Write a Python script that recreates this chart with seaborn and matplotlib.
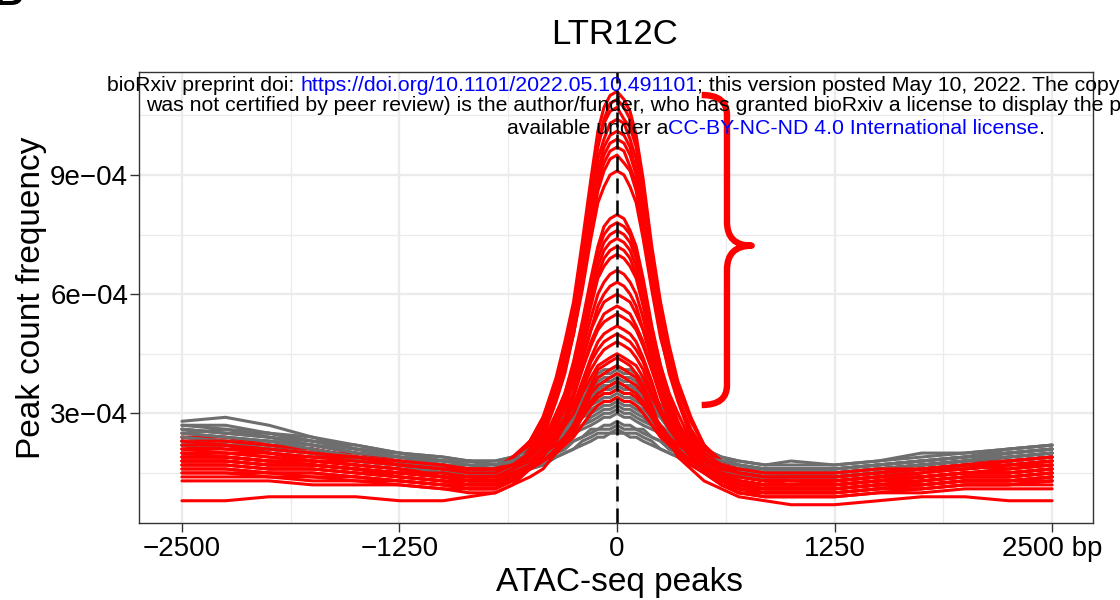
import numpy as np
import pandas as pd
import matplotlib
matplotlib.use("Agg")
import matplotlib.pyplot as plt
from matplotlib.path import Path
from matplotlib.patches import PathPatch
from matplotlib.font_manager import FontProperties
import seaborn as sns

# ---------------- data ----------------
positions = [-2500, -2250, -2000, -1750, -1500, -1250, -1000, -850, -700,
             -600, -500, -425, -350, -300, -250, -200, -150, -110, -75, -40,
             0,
             40, 75, 110, 150, 200, 250, 300, 350, 425, 500, 600,
             700, 850, 1000, 1250, 1500, 1750, 2000, 2250, 2500]

# peak count frequency in units of 1e-5 (red group)
red_profiles = [
    [21, 22, 20, 19, 19, 17, 17, 16, 15, 18, 23, 29, 39, 48, 58, 73, 89, 101, 107, 110, 111, 109, 106, 100, 89, 72, 58, 47, 38, 29, 22, 17, 14, 13, 14, 13, 14, 15, 17, 16, 17],
    [19, 19, 18, 17, 16, 15, 14, 13, 13, 16, 21, 26, 35, 44, 54, 71, 87, 98, 104, 108, 109, 107, 104, 98, 87, 70, 54, 43, 34, 25, 20, 15, 12, 11, 11, 11, 12, 13, 14, 14, 15],
    [23, 21, 21, 20, 18, 17, 17, 15, 15, 18, 23, 29, 38, 46, 56, 70, 86, 97, 103, 106, 107, 104, 102, 97, 86, 70, 56, 46, 37, 28, 22, 17, 14, 13, 12, 13, 14, 15, 16, 17, 17],
    [17, 17, 16, 16, 15, 14, 13, 12, 12, 15, 20, 26, 35, 43, 53, 67, 83, 94, 99, 103, 104, 103, 99, 94, 83, 67, 53, 43, 34, 25, 19, 14, 11, 10, 10, 10, 11, 12, 13, 13, 14],
    [20, 19, 18, 18, 17, 16, 14, 14, 13, 16, 21, 26, 35, 43, 53, 66, 81, 91, 97, 100, 101, 100, 97, 91, 81, 65, 52, 42, 34, 25, 20, 15, 12, 12, 12, 12, 13, 14, 15, 15, 16],
    [22, 22, 21, 20, 19, 18, 17, 16, 16, 19, 23, 28, 37, 44, 53, 66, 80, 90, 95, 98, 99, 98, 95, 90, 80, 65, 53, 44, 36, 28, 22, 18, 15, 14, 15, 14, 15, 16, 16, 17, 18],
    [16, 16, 15, 15, 14, 13, 12, 11, 11, 14, 18, 24, 33, 40, 50, 63, 77, 88, 93, 96, 97, 96, 92, 88, 77, 63, 50, 40, 33, 24, 18, 14, 11, 10, 10, 10, 11, 11, 12, 12, 13],
    [18, 18, 17, 17, 16, 15, 14, 13, 13, 16, 20, 25, 34, 41, 50, 62, 76, 86, 91, 94, 95, 93, 91, 86, 76, 62, 50, 41, 34, 25, 20, 16, 13, 12, 12, 12, 13, 14, 15, 15, 16],
    [24, 24, 22, 20, 20, 18, 16, 16, 16, 19, 22, 27, 35, 42, 50, 61, 74, 83, 87, 90, 91, 90, 87, 83, 74, 61, 49, 41, 34, 26, 21, 18, 15, 14, 14, 15, 16, 17, 18, 18, 19],
    [19, 19, 18, 17, 16, 14, 13, 12, 12, 14, 18, 22, 29, 35, 43, 53, 64, 72, 77, 79, 80, 79, 76, 72, 64, 52, 42, 34, 28, 21, 17, 13, 11, 11, 11, 11, 12, 12, 13, 13, 14],
    [15, 15, 14, 14, 13, 13, 12, 11, 11, 13, 17, 21, 28, 34, 41, 51, 63, 71, 75, 77, 78, 77, 75, 70, 62, 51, 41, 33, 27, 20, 16, 12, 10, 9, 9, 9, 10, 11, 12, 12, 13],
    [21, 20, 20, 18, 18, 17, 16, 15, 14, 16, 19, 23, 30, 35, 42, 51, 62, 69, 73, 75, 76, 75, 73, 69, 62, 51, 42, 35, 30, 23, 19, 16, 14, 13, 13, 13, 14, 15, 16, 17, 18],
    [18, 18, 17, 17, 16, 15, 14, 13, 13, 15, 18, 22, 28, 34, 40, 50, 60, 67, 71, 73, 74, 73, 71, 67, 60, 49, 40, 33, 27, 21, 17, 14, 12, 11, 11, 11, 12, 13, 14, 14, 15],
    [14, 14, 14, 13, 13, 12, 11, 11, 11, 13, 16, 20, 26, 32, 38, 48, 58, 65, 69, 71, 72, 71, 69, 65, 58, 47, 38, 31, 25, 19, 15, 12, 10, 10, 10, 10, 11, 11, 12, 12, 12],
    [20, 20, 19, 18, 17, 16, 15, 14, 14, 16, 19, 22, 28, 33, 39, 48, 57, 64, 67, 69, 70, 69, 67, 64, 57, 47, 39, 32, 27, 21, 18, 15, 13, 12, 12, 12, 13, 14, 15, 16, 17],
    [23, 23, 22, 21, 19, 18, 16, 16, 15, 17, 19, 23, 28, 32, 38, 46, 54, 60, 63, 65, 66, 65, 63, 60, 54, 45, 37, 32, 27, 22, 18, 16, 14, 14, 13, 13, 14, 16, 16, 17, 18],
    [17, 17, 16, 16, 15, 14, 13, 12, 12, 14, 16, 20, 25, 29, 35, 43, 51, 57, 60, 62, 63, 62, 60, 57, 51, 43, 35, 29, 25, 20, 16, 14, 12, 11, 11, 11, 12, 12, 13, 13, 14],
    [19, 19, 18, 18, 17, 16, 15, 14, 14, 16, 20, 23, 28, 32, 37, 44, 51, 55, 58, 59, 60, 59, 58, 55, 51, 44, 37, 31, 27, 22, 19, 15, 13, 12, 12, 13, 14, 14, 15, 15, 16],
    [13, 13, 13, 12, 12, 12, 11, 10, 10, 12, 16, 19, 24, 28, 34, 41, 48, 52, 55, 56, 57, 56, 55, 52, 48, 41, 34, 28, 24, 19, 16, 12, 10, 9, 9, 9, 10, 10, 11, 11, 11],
    [22, 22, 20, 19, 19, 17, 16, 15, 15, 17, 20, 23, 27, 31, 35, 41, 47, 51, 53, 54, 55, 54, 53, 51, 47, 41, 35, 31, 27, 23, 20, 17, 15, 14, 14, 14, 15, 16, 17, 18, 19],
    [16, 16, 15, 15, 14, 13, 12, 12, 12, 14, 17, 20, 24, 28, 32, 38, 44, 48, 50, 51, 52, 51, 50, 48, 44, 38, 31, 27, 23, 19, 16, 13, 11, 10, 10, 10, 11, 12, 13, 13, 14],
    [20, 20, 19, 18, 17, 16, 14, 14, 14, 16, 18, 21, 25, 28, 32, 37, 43, 46, 48, 49, 50, 49, 48, 46, 43, 37, 31, 27, 24, 20, 17, 15, 13, 12, 12, 12, 13, 14, 15, 15, 16],
    [18, 18, 17, 17, 16, 15, 14, 13, 13, 15, 17, 20, 23, 27, 30, 36, 41, 44, 46, 47, 48, 47, 46, 44, 41, 35, 30, 26, 23, 19, 16, 14, 12, 12, 12, 12, 13, 13, 14, 14, 15],
    [8, 8, 9, 9, 9, 8, 8, 9, 10, 12, 14, 16, 20, 23, 27, 32, 37, 41, 42, 43, 44, 43, 42, 40, 37, 32, 26, 23, 19, 16, 13, 11, 9, 8, 7, 7, 8, 9, 9, 8, 8],
    [21, 21, 20, 19, 18, 17, 16, 16, 16, 17, 20, 22, 25, 27, 30, 35, 39, 42, 43, 44, 45, 44, 43, 42, 39, 34, 30, 27, 24, 21, 19, 16, 15, 14, 14, 14, 15, 16, 17, 17, 18],
    [15, 15, 15, 14, 14, 13, 12, 12, 12, 13, 16, 18, 21, 24, 27, 31, 36, 39, 40, 41, 42, 41, 40, 39, 36, 31, 26, 23, 20, 17, 15, 12, 11, 11, 11, 11, 12, 12, 13, 13, 13],
    [19, 19, 18, 17, 16, 15, 14, 13, 13, 14, 16, 18, 21, 24, 27, 30, 35, 37, 38, 39, 40, 39, 38, 37, 35, 30, 27, 24, 21, 18, 16, 14, 13, 12, 12, 12, 13, 14, 15, 15, 16],
    [17, 17, 16, 16, 15, 14, 13, 13, 13, 14, 16, 18, 20, 23, 25, 29, 33, 35, 36, 37, 38, 37, 36, 35, 33, 29, 25, 22, 20, 17, 15, 13, 12, 11, 11, 11, 12, 13, 14, 14, 15],
    [23, 22, 21, 20, 19, 18, 17, 16, 16, 17, 18, 20, 22, 24, 26, 29, 32, 34, 35, 35, 36, 35, 35, 34, 32, 29, 26, 24, 22, 20, 18, 17, 16, 15, 15, 15, 16, 16, 17, 18, 19],
    [18, 18, 17, 17, 16, 15, 15, 14, 14, 15, 16, 18, 20, 22, 24, 27, 30, 32, 33, 33, 34, 33, 33, 32, 30, 27, 24, 22, 20, 18, 16, 15, 14, 13, 13, 13, 14, 14, 15, 16, 17],
]

# peak count frequency in units of 1e-5 (gray group)
gray_profiles = [
    [26, 25, 25, 23, 22, 20, 19, 18, 17, 19, 21, 23, 27, 30, 32, 35, 38, 40, 41, 41, 42, 41, 41, 40, 38, 35, 32, 30, 27, 23, 21, 19, 17, 16, 16, 16, 17, 18, 19, 20, 21],
    [28, 29, 27, 24, 22, 20, 18, 18, 18, 19, 21, 24, 27, 30, 32, 35, 37, 39, 40, 40, 41, 40, 40, 39, 37, 35, 32, 30, 27, 24, 21, 19, 18, 17, 17, 17, 18, 19, 20, 21, 22],
    [24, 23, 23, 22, 20, 19, 17, 16, 16, 18, 20, 22, 25, 28, 31, 34, 36, 38, 39, 39, 40, 39, 39, 38, 36, 34, 31, 28, 25, 22, 20, 18, 16, 15, 15, 15, 16, 17, 18, 19, 20],
    [27, 26, 25, 23, 21, 20, 19, 18, 18, 19, 21, 23, 26, 29, 31, 33, 36, 37, 38, 38, 39, 38, 38, 37, 36, 33, 31, 29, 26, 23, 21, 19, 18, 17, 18, 17, 18, 20, 20, 21, 22],
    [25, 24, 23, 22, 20, 19, 17, 16, 16, 17, 19, 21, 25, 27, 30, 32, 34, 36, 37, 37, 38, 37, 37, 36, 34, 32, 30, 27, 25, 21, 19, 17, 16, 16, 16, 16, 17, 18, 19, 20, 21],
    [23, 23, 22, 21, 19, 18, 16, 16, 15, 16, 18, 20, 24, 26, 29, 31, 33, 35, 36, 36, 37, 36, 36, 35, 33, 31, 29, 26, 24, 20, 18, 16, 15, 14, 14, 14, 15, 16, 17, 18, 19],
    [26, 25, 24, 23, 21, 20, 18, 18, 17, 18, 20, 22, 24, 27, 29, 31, 33, 34, 35, 35, 36, 35, 35, 34, 33, 31, 29, 27, 24, 22, 20, 18, 17, 16, 16, 16, 17, 18, 19, 20, 21],
    [24, 23, 22, 21, 19, 18, 16, 16, 16, 17, 19, 21, 23, 26, 28, 30, 32, 33, 34, 34, 35, 34, 34, 33, 32, 30, 27, 25, 23, 20, 18, 16, 15, 15, 15, 15, 16, 17, 18, 19, 20],
    [22, 22, 21, 20, 18, 17, 16, 15, 15, 16, 18, 20, 22, 25, 27, 29, 31, 32, 33, 33, 34, 33, 33, 32, 31, 29, 27, 25, 22, 20, 18, 16, 15, 14, 14, 14, 15, 16, 17, 18, 19],
    [25, 26, 24, 22, 21, 19, 18, 17, 17, 18, 19, 21, 23, 25, 27, 29, 30, 31, 32, 32, 33, 32, 32, 31, 30, 28, 26, 24, 23, 20, 18, 17, 16, 16, 16, 16, 17, 18, 19, 20, 21],
    [23, 22, 22, 21, 19, 18, 16, 15, 15, 16, 17, 19, 22, 23, 25, 27, 29, 30, 31, 31, 32, 31, 31, 30, 29, 27, 25, 23, 22, 19, 17, 16, 15, 14, 14, 14, 15, 16, 17, 18, 19],
    [26, 25, 24, 22, 20, 19, 18, 18, 17, 18, 19, 20, 22, 24, 26, 27, 28, 29, 30, 30, 31, 30, 30, 29, 28, 27, 26, 24, 22, 20, 19, 18, 17, 16, 16, 16, 17, 18, 19, 21, 22],
    [24, 23, 22, 21, 19, 18, 16, 16, 16, 17, 18, 19, 21, 23, 25, 26, 27, 28, 29, 29, 30, 29, 29, 28, 27, 26, 25, 23, 21, 19, 18, 17, 16, 15, 15, 15, 16, 17, 18, 19, 20],
    [22, 22, 21, 20, 18, 17, 15, 15, 15, 16, 17, 18, 20, 21, 23, 24, 26, 26, 27, 27, 28, 27, 27, 26, 26, 24, 23, 21, 20, 18, 17, 16, 15, 14, 14, 14, 15, 16, 17, 18, 19],
    [27, 27, 25, 24, 21, 19, 17, 17, 16, 17, 18, 19, 20, 21, 23, 24, 25, 26, 26, 26, 27, 26, 26, 26, 25, 24, 23, 21, 20, 19, 18, 17, 16, 15, 15, 15, 16, 17, 18, 20, 21],
    [23, 22, 21, 20, 18, 17, 15, 15, 14, 15, 16, 17, 19, 20, 21, 23, 24, 25, 25, 25, 26, 25, 25, 25, 24, 23, 21, 20, 19, 17, 16, 15, 14, 14, 14, 14, 15, 16, 17, 18, 19],
    [25, 24, 23, 21, 19, 18, 16, 15, 15, 15, 16, 17, 19, 20, 21, 22, 23, 24, 24, 25, 25, 25, 24, 24, 23, 22, 21, 20, 19, 17, 16, 15, 15, 15, 15, 15, 16, 17, 18, 19, 20],
    [22, 22, 21, 20, 18, 17, 15, 15, 15, 16, 18, 21, 24, 27, 29, 32, 34, 36, 37, 37, 38, 37, 37, 36, 34, 32, 29, 26, 23, 20, 17, 15, 14, 14, 14, 14, 15, 16, 17, 18, 19],
]
value_unit = 1e-5

x_ticks = [-2500, -1250, 0, 1250, 2500]
x_tick_labels = ["\u22122500", "\u22121250", "0", "1250", "2500 bp"]
x_minor = [-1875, -625, 625, 1875]
y_ticks = [3e-4, 6e-4, 9e-4]
y_tick_labels = ["3e\u221204", "6e\u221204", "9e\u221204"]
y_minor = [1.5e-4, 4.5e-4, 7.5e-4, 1.05e-3]

title = "LTR12C"
x_label = "ATAC-seq peaks"
y_label = "Peak count frequency"

RED = "#FF0000"
GRAY = "#6E6E6E"

# ---------------- long table ----------------
rows = []
for i, prof in enumerate(red_profiles):
    for p, v in zip(positions, prof):
        rows.append({"sample": f"r{i}", "pos": p, "freq": v * value_unit})
for i, prof in enumerate(gray_profiles):
    for p, v in zip(positions, prof):
        rows.append({"sample": f"g{i}", "pos": p, "freq": v * value_unit})
df = pd.DataFrame(rows)

order = []
for k in range(max(len(red_profiles), len(gray_profiles))):
    if k < len(red_profiles):
        order.append(f"r{k}")
    if k < len(gray_profiles):
        order.append(f"g{k}")
palette = {s: (RED if s.startswith("r") else GRAY) for s in order}

# ---------------- figure ----------------
sns.set_theme(style="white")
plt.rcParams["font.family"] = ["Liberation Sans", "DejaVu Sans"]
plt.rcParams["axes.unicode_minus"] = True

W, H = 1120, 600
fig = plt.figure(figsize=(W / 100, H / 100), dpi=100)
ax = fig.add_axes([139.3 / W, 1 - 523 / H, (1093 - 139.3) / W, (523 - 72) / H])
ax.set_facecolor("white")

sns.lineplot(data=df, x="pos", y="freq", hue="sample", hue_order=order,
             palette=palette, estimator=None, legend=False, linewidth=2.2,
             ax=ax, zorder=3)

ax.axvline(0, color="black", lw=1.8, linestyle=(0, (6, 2.8)), zorder=6)

ax.set_xlim(-2745, 2735)
ax.set_ylim(2.4e-5, 1.159e-3)

ax.set_xticks(x_ticks)
ax.set_xticklabels(x_tick_labels)
ax.set_xticks(x_minor, minor=True)
ax.set_yticks(y_ticks)
ax.set_yticklabels(y_tick_labels)
ax.set_yticks(y_minor, minor=True)

ax.grid(which="major", color="#EBEBEB", lw=1.7)
ax.grid(which="minor", color="#EBEBEB", lw=0.9)
ax.set_axisbelow(True)

for s in ax.spines.values():
    s.set_color("#333333")
    s.set_linewidth(1.0)
    s.set_visible(True)
    s.set_zorder(7)

ax.tick_params(axis="both", which="major", length=6.5, width=1.0, color="#333333",
               labelsize=20, labelcolor="black", direction="out")
ax.tick_params(axis="x", which="major", pad=3, bottom=True)
ax.tick_params(axis="y", which="major", pad=1.5, left=True)
ax.tick_params(axis="both", which="minor", length=0)

ax.set_xlabel(x_label, fontsize=24, color="black", va="center")
ax.xaxis.set_label_coords(0.503, (523 - 582) / 451)
ax.set_ylabel(y_label, fontsize=24, color="black", va="center")
ax.yaxis.set_label_coords((31.7 - 139.3) / 953.7, 0.5)

fig.text(615 / W, 1 - 44 / H, title, fontsize=25, ha="center", va="baseline", color="black")

# panel letter (cut off at the figure edge)
fig.text(-0.006, 1 - 5 / H, "B", fontsize=30, fontweight="bold", ha="left",
         va="baseline", color="black")

# curly brace annotation (axes fraction coordinates)
bx0, bx1, btip = 0.5897, 0.6162, 0.6421
verts = [
    (bx0, 0.949), (bx1, 0.949), (bx1, 0.905),
    (bx1, 0.668),
    (bx1, 0.6149), (btip, 0.6149),
    (bx1, 0.6149), (bx1, 0.561),
    (bx1, 0.305),
    (bx1, 0.2616), (bx0, 0.2616),
]
codes = [Path.MOVETO, Path.CURVE3, Path.CURVE3,
         Path.LINETO,
         Path.CURVE3, Path.CURVE3,
         Path.CURVE3, Path.CURVE3,
         Path.LINETO,
         Path.CURVE3, Path.CURVE3]
brace = PathPatch(Path(verts, codes), transform=ax.transAxes, fill=False,
                  edgecolor=RED, lw=4.6, capstyle="butt", joinstyle="round",
                  zorder=8, clip_on=False)
ax.add_patch(brace)

# ---------------- bioRxiv stamp ----------------
renderer = fig.canvas.get_renderer()
stamp_fp = FontProperties(family="Liberation Sans", size=15.35)


def advance(s):
    w1, _, _ = renderer.get_text_width_height_descent("|" + s + "|", stamp_fp, ismath=False)
    w2, _, _ = renderer.get_text_width_height_descent("||", stamp_fp, ismath=False)
    return w1 - w2


def stamp_line(x_px, base_px, pieces):
    prefix = ""
    for text, color in pieces:
        x = x_px + advance(prefix)
        fig.text(x / W, 1 - base_px / H, text.strip(), fontproperties=stamp_fp, color=color,
                 ha="left", va="baseline", zorder=20)
        prefix += text


BLUE = "#0000FF"
stamp_line(107.3, 91, [("bioRxiv preprint doi: ", "black"),
                       ("https://doi.org/10.1101/2022.05.10.491101", BLUE),
                       ("; this version posted May 10, 2022. The copyright holder for this preprint (which", "black")])
stamp_line(146.5, 111, [("was not certified by peer review) is the author/funder, who has granted bioRxiv a license to display the preprint in perpetuity. It is made", "black")])
stamp_line(507, 134, [("available under a", "black"),
                      ("CC-BY-NC-ND 4.0 International license", BLUE),
                      (".", "black")])

fig.savefig("out.png", dpi=100)
